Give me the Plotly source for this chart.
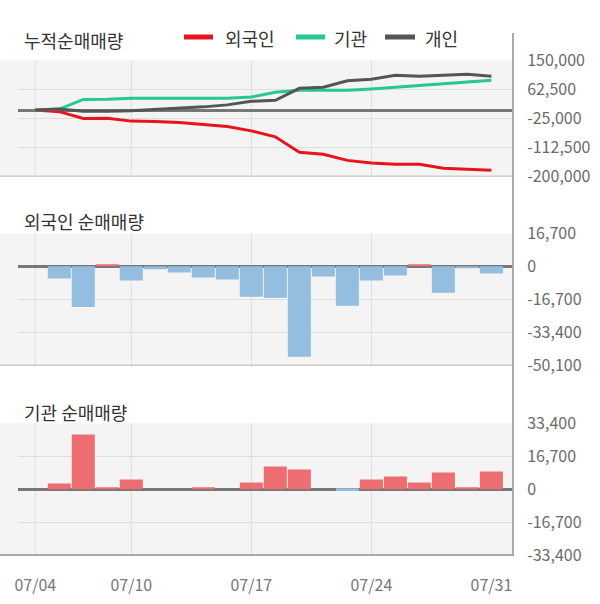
import plotly.graph_objects as go

# ---------------- data ----------------
dates = ["07/04", "07/05", "07/08", "07/09", "07/10", "07/11", "07/12", "07/15", "07/16", "07/17",
         "07/18", "07/19", "07/22", "07/23", "07/24", "07/25", "07/26", "07/29", "07/30", "07/31"]
tick_dates = ["07/04", "07/10", "07/17", "07/24", "07/31"]

# cumulative net volume (top panel)
foreign_cum = [0, -5000, -25500, -25000, -33500, -34300, -37800, -43600, -49500, -63000,
               -81000, -127400, -133500, -152000, -159800, -164000, -163500, -175800, -178300, -181600]
inst_cum = [0, 3000, 32000, 32300, 35300, 35300, 35300, 35300, 35800, 39000,
            53500, 59400, 59400, 59400, 63400, 68500, 72400, 79300, 82400, 89600]
indiv_cum = [0, 3000, -3500, -4000, -2000, 1500, 4500, 9500, 15500, 26200,
             29300, 65500, 68500, 88400, 92600, 104700, 101700, 104700, 107700, 101700]

# daily net volume
foreign_daily = [0, -6200, -20600, 900, -7200, -1500, -3100, -5700, -6700, -15400,
                 -15900, -45800, -5100, -20000, -7200, -4600, 900, -13400, -1000, -3600]
inst_daily = [0, 2900, 27700, 900, 4900, 0, 0, 900, 0, 3400,
              11500, 10000, 0, -900, 4900, 6400, 3400, 8500, 900, 9000]

top_ticks = [150000, 62500, -25000, -112500, -200000]
top_labels = ["150,000", "62,500", "-25,000", "-112,500", "-200,000"]
mid_ticks = [16700, 0, -16700, -33400, -50100]
mid_labels = ["16,700", "0", "-16,700", "-33,400", "-50,100"]
bot_ticks = [33400, 16700, 0, -16700, -33400]
bot_labels = ["33,400", "16,700", "0", "-16,700", "-33,400"]

titles = ["누적순매매량", "외국인 순매매량", "기관 순매매량"]
title_y = [40, 221, 412]
series_names = ["외국인", "기관", "개인"]
line_colors = ["#e8141b", "#26c88c", "#555555"]
POS, NEG = "#ed6d70", "#93bee0"

# ---------------- layout geometry (pixels) ----------------
W, H = 600, 604
L, R = 18, 87
PW = W - L - R
FONT = "Noto Sans CJK KR"


def px_x(p):
    return (p - L) / PW


def px_y(p):
    return 1 - p / H


panels = [(60.3, 176.3), (233.3, 365.3), (423.3, 555.0)]
domains = [[px_y(b), px_y(t)] for (t, b) in panels]
xrange_ = [-0.72, 19.9]

fig = go.Figure()

for name, vals, col in zip(series_names, [foreign_cum, inst_cum, indiv_cum], line_colors):
    fig.add_trace(go.Scatter(x=dates, y=vals, mode="lines", name=name,
                             line=dict(color=col, width=3), xaxis="x", yaxis="y",
                             showlegend=False))

fig.add_trace(go.Bar(x=dates, y=foreign_daily, xaxis="x2", yaxis="y2",
                     marker=dict(color=[POS if v > 0 else NEG for v in foreign_daily], line_width=0),
                     showlegend=False))
fig.add_trace(go.Bar(x=dates, y=inst_daily, xaxis="x3", yaxis="y3",
                     marker=dict(color=[POS if v > 0 else NEG for v in inst_daily], line_width=0),
                     showlegend=False))

tickfont = dict(family=FONT, size=16, color="#6b6b6b")


def xax(show_labels):
    return dict(type="category", range=xrange_, showgrid=False, zeroline=False, automargin=False,
                showline=False, tickmode="array", tickvals=tick_dates, ticktext=tick_dates,
                showticklabels=show_labels, ticks="outside" if show_labels else "",
                ticklen=16, tickcolor="rgba(0,0,0,0)",
                tickfont=dict(family=FONT, size=16, color="#777777"), fixedrange=True)


def yax(dom, rng, tv, tt, anchor):
    return dict(domain=dom, range=rng, side="right", anchor=anchor, tickmode="array", automargin=False,
                tickvals=tv, ticktext=tt, showgrid=True, gridcolor="#dddddd", gridwidth=1,
                zeroline=True, zerolinecolor="#777777", zerolinewidth=2.5, showline=False,
                ticks="outside", ticklen=10, tickcolor="rgba(0,0,0,0)", tickfont=tickfont)


shapes = []
ann = []
for i, (t, b) in enumerate(panels):
    xa = "x" if i == 0 else f"x{i+1}"
    ya = "y" if i == 0 else f"y{i+1}"
    # left extension of the grey background
    shapes.append(dict(type="rect", xref="paper", yref="paper", x0=px_x(0), x1=0,
                       y0=px_y(b), y1=px_y(t), fillcolor="#f4f4f4", line_width=0, layer="below"))
    # vertical grid lines at tick dates (not the last)
    for d in tick_dates[:-1]:
        shapes.append(dict(type="line", xref=xa, yref=f"{ya} domain", x0=d, x1=d, y0=0, y1=1,
                           line=dict(color="#dddddd", width=1), layer="below"))
    # bottom border
    shapes.append(dict(type="line", xref="paper", yref="paper", x0=px_x(0), x1=1,
                       y0=px_y(b), y1=px_y(b),
                       line=dict(color="#aaaaaa" if i == 2 else "#cccccc", width=2 if i == 2 else 1.5)))
    ann.append(dict(text=titles[i], xref="paper", yref="paper", x=px_x(22), y=px_y(title_y[i]),
                    xanchor="left", yanchor="middle", showarrow=False,
                    font=dict(family=FONT, size=18, color="#333333")))

# right vertical axis line
shapes.append(dict(type="line", xref="paper", yref="paper", x0=1, x1=1, y0=px_y(556), y1=px_y(33),
                   line=dict(color="#aaaaaa", width=2)))

# manual legend
leg = [(184, 213, 223), (296, 325, 332), (385, 415, 423)]
for (a, b_, tx), name, col in zip(leg, series_names, line_colors):
    shapes.append(dict(type="line", xref="paper", yref="paper", x0=px_x(a), x1=px_x(b_),
                       y0=px_y(37), y1=px_y(37), line=dict(color=col, width=5)))
    ann.append(dict(text=name, xref="paper", yref="paper", x=px_x(tx), y=px_y(38.5),
                    xanchor="left", yanchor="middle", showarrow=False,
                    font=dict(family=FONT, size=18, color="#333333")))

fig.update_layout(
    width=W, height=H, margin=dict(l=L, r=R, t=0, b=0, autoexpand=False),
    paper_bgcolor="white", plot_bgcolor="#f4f4f4",
    bargap=0.04, showlegend=False,
    xaxis=dict(**xax(False), anchor="y"),
    xaxis2=dict(**xax(False), anchor="y2"),
    xaxis3=dict(**xax(True), anchor="y3"),
    yaxis=yax(domains[0], [-200000, 150000], top_ticks, top_labels, "x"),
    yaxis2=yax(domains[1], [-50100, 16700], mid_ticks, mid_labels, "x2"),
    yaxis3=yax(domains[2], [-33400, 33400], bot_ticks, bot_labels, "x3"),
    shapes=shapes, annotations=ann,
)

fig.write_html("out.html")
